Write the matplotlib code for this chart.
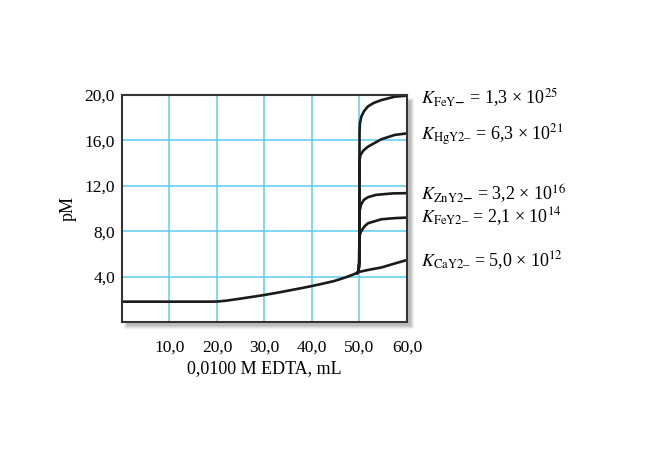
import matplotlib
matplotlib.use("Agg")
import matplotlib.pyplot as plt
from matplotlib.patches import Rectangle

plt.rcParams['font.family'] = ['Liberation Serif', 'DejaVu Serif']
plt.rcParams['mathtext.fontset'] = 'stix'

# common pre-equivalence part
vol_pre = [0, 10, 18, 20, 22, 25, 28, 30, 33, 35, 38, 40, 42, 44.6, 46, 47.4, 48.8, 49.5]
pM_pre = [1.79, 1.79, 1.79, 1.80, 1.88, 2.06, 2.25, 2.38, 2.6, 2.76, 3.0, 3.17, 3.35, 3.6, 3.78, 3.98, 4.2, 4.32]

# post-equivalence parts
vol_fe3 = [49.8, 49.95, 50.0, 50.02, 50.1, 50.4, 51.0, 51.8, 53.0, 54.6, 57.4, 60.0]
pM_fe3 = [4.45, 5.2, 10.0, 16.8, 17.5, 18.1, 18.6, 19.0, 19.3, 19.55, 19.85, 19.94]

vol_hg = [49.8, 49.95, 50.0, 50.03, 50.2, 50.8, 51.8, 54.6, 57.4, 60.0]
pM_hg = [4.45, 5.2, 10.0, 14.3, 14.7, 15.1, 15.45, 16.1, 16.48, 16.62]

vol_zn = [49.8, 49.95, 50.0, 50.05, 50.3, 50.9, 51.8, 53.5, 57.0, 60.0]
pM_zn = [4.45, 5.2, 8.5, 9.8, 10.3, 10.75, 11.0, 11.2, 11.33, 11.35]

vol_fe2 = [49.8, 49.95, 50.0, 50.05, 50.3, 51.0, 51.8, 54.6, 57.4, 60.0]
pM_fe2 = [4.45, 5.2, 6.8, 7.6, 7.95, 8.4, 8.7, 9.05, 9.15, 9.2]

vol_ca = [49.5, 50.0, 52.0, 54.6, 57.0, 60.0]
pM_ca = [4.32, 4.42, 4.6, 4.8, 5.1, 5.46]

labels = [
    r"$K_{\mathrm{FeY}\mathbf{-}}$ = 1,3 × 10$^{25}$",
    r"$K_{\mathrm{HgY2–}}$ = 6,3 × 10$^{21}$",
    r"$K_{\mathrm{ZnY2}\mathbf{-}}$ = 3,2 × 10$^{16}$",
    r"$K_{\mathrm{FeY2–}}$ = 2,1 × 10$^{14}$",
    r"$K_{\mathrm{CaY2–}}$ = 5,0 × 10$^{12}$",
]
label_y = [19.8, 16.5, 11.35, 9.3, 5.45]

xticks = [10, 20, 30, 40, 50, 60]
xticklabels = ["10,0", "20,0", "30,0", "40,0", "50,0", "60,0"]
yticks = [4, 8, 12, 16, 20]
yticklabels = ["4,0", "8,0", "12,0", "16,0", "20,0"]

fig = plt.figure(figsize=(6.6, 4.49), dpi=100)
l, b, w, h = 0.1848, 0.2829, 0.4318, 0.5055

# soft drop shadow
dx, dy = 4 / 660, -4 / 449
for i, a in enumerate([0.10, 0.12, 0.15, 0.2]):
    off = (3 - i) / 660
    offy = (3 - i) / 449
    fig.patches.append(Rectangle((l + dx - off + 0.002, b + dy - offy), w + 2 * off - 0.002, h + 2 * offy - 0.004,
                                 transform=fig.transFigure, facecolor='#707070', alpha=a,
                                 edgecolor='none', zorder=-2))

ax = fig.add_axes([l, b, w, h])
ax.set_facecolor('white')
ax.set_xlim(0, 60)
ax.set_ylim(0, 20)
ax.set_xticks(xticks)
ax.set_xticklabels(xticklabels, fontsize=12.5)
ax.set_yticks(yticks)
ax.set_yticklabels(yticklabels, fontsize=12.5)
ax.tick_params(length=0, pad=5)
ax.tick_params(axis='x', pad=13)
ax.grid(True, color='#5ccbf0', linewidth=1.1)
ax.set_axisbelow(True)
for s in ax.spines.values():
    s.set_color('#333333')
    s.set_linewidth(1.5)

lc = '#1a1a1a'
lw = 1.9
ax.plot(vol_pre, pM_pre, color=lc, lw=lw, solid_capstyle='round')
for vx, vy in [(vol_fe3, pM_fe3), (vol_hg, pM_hg), (vol_zn, pM_zn), (vol_fe2, pM_fe2), (vol_ca, pM_ca)]:
    ax.plot([vol_pre[-1]] + vx, [pM_pre[-1]] + vy, color=lc, lw=lw, solid_joinstyle='round')

for txt, yv in zip(labels, label_y):
    ax.annotate(txt, xy=(60, yv), xycoords='data', xytext=(10, 0), textcoords='offset points',
                va='center', ha='left', fontsize=13, annotation_clip=False)

ax.set_xlabel("0,0100 M EDTA, mL", fontsize=13, labelpad=3)
ax.set_ylabel("pM", fontsize=13, labelpad=6)

fig.savefig("out.png", dpi=100)
